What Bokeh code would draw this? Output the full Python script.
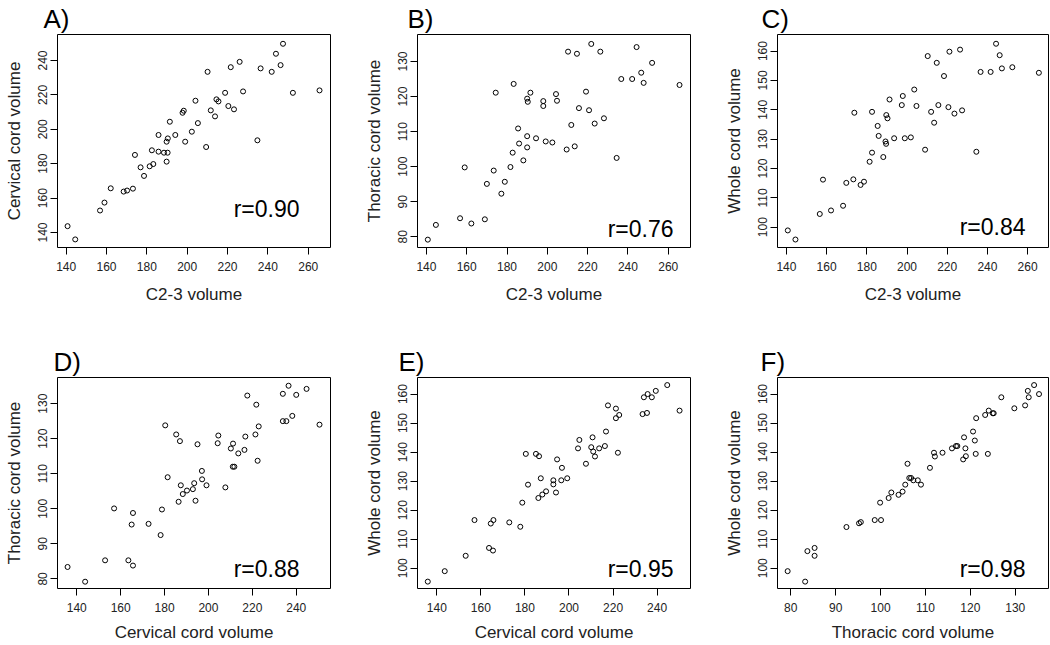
from bokeh.plotting import figure
from bokeh.models import Range1d, FixedTicker, Label
from bokeh.layouts import row, column
from bokeh.embed import file_html
from bokeh.resources import INLINE

FONT = "Liberation Sans"

# ---------------- data ----------------
# Panel A: C2-3 volume vs cervical cord volume
a_x = [140.7, 144.5, 156.8, 159.0, 162.1, 168.5, 170.2, 173.1, 174.1, 176.9, 178.6, 181.4, 183.2, 182.5,
       185.8, 185.8, 188.5, 189.8, 190.3, 189.8, 190.4, 191.4, 194.1, 197.7, 198.3, 199.0, 202.3, 204.1,
       205.3, 209.4, 210.1, 211.7, 213.8, 214.5, 215.5, 218.8, 220.4, 221.6, 223.2, 226.0, 227.7, 234.8,
       236.4, 241.9, 244.0, 246.3, 247.5, 252.4, 265.6]
a_y = [143.7, 136.0, 152.8, 157.4, 165.7, 163.8, 164.4, 165.5, 185.1, 177.9, 172.9, 178.5, 179.8, 187.8,
       196.7, 187.0, 186.4, 181.2, 186.4, 192.8, 194.7, 204.4, 196.7, 209.6, 210.8, 192.8, 198.6, 216.6,
       203.6, 189.7, 233.4, 211.0, 207.5, 217.4, 216.2, 221.2, 213.5, 236.1, 211.6, 239.2, 222.0, 193.6,
       235.4, 233.4, 243.9, 237.3, 249.7, 221.2, 222.6]

# Panel B: C2-3 volume vs thoracic cord volume
b_x = [140.7, 144.7, 156.7, 159.0, 162.3, 169.0, 170.0, 173.4, 174.4, 177.2, 178.9, 181.7, 182.8, 183.3,
       185.5, 186.0, 188.1, 190.0, 190.0, 190.0, 190.3, 191.6, 194.4, 198.0, 198.0, 199.2, 202.5, 204.3,
       204.8, 209.6, 210.3, 211.9, 213.6, 214.7, 215.7, 219.2, 220.7, 221.8, 223.5, 226.3, 228.1, 234.4,
       236.7, 242.1, 244.3, 246.6, 247.8, 252.0, 265.6]
b_y = [79.2, 83.4, 85.3, 99.8, 83.8, 85.0, 95.1, 98.9, 121.1, 92.3, 95.7, 99.9, 104.0, 123.6,
       110.9, 106.6, 101.8, 119.4, 108.7, 105.5, 118.5, 121.1, 108.1, 118.7, 117.3, 107.2, 106.9, 120.7,
       118.8, 104.9, 132.8, 111.9, 105.8, 132.2, 116.7, 121.4, 116.1, 135.0, 112.3, 132.8, 113.8, 102.5,
       125.0, 125.0, 134.1, 126.8, 123.9, 129.6, 123.3]

# Panel C: C2-3 volume vs whole cord volume
c_x = [140.7, 144.5, 156.6, 158.2, 162.2, 168.2, 169.8, 173.3, 173.8, 176.9, 178.6, 181.4, 182.6, 182.6,
       185.4, 185.9, 188.2, 189.3, 189.6, 189.7, 190.3, 191.3, 193.6, 197.4, 197.9, 198.9, 201.9, 203.6,
       204.7, 209.0, 210.3, 212.0, 213.5, 214.8, 215.6, 218.4, 220.6, 221.1, 223.6, 226.4, 227.4, 234.5,
       236.6, 241.6, 244.3, 246.1, 247.2, 252.4, 265.6]
c_y = [98.9, 95.8, 104.5, 116.2, 105.7, 107.3, 115.1, 116.3, 139.0, 114.4, 115.5, 122.3, 125.4, 139.3,
       134.5, 131.1, 123.9, 129.2, 128.4, 138.2, 137.1, 143.5, 130.3, 141.6, 144.7, 130.3, 130.6, 146.9,
       141.3, 126.4, 158.3, 139.3, 135.6, 156.0, 141.6, 151.5, 140.9, 159.8, 138.7, 160.5, 139.8, 125.7,
       152.9, 152.9, 162.5, 158.6, 154.1, 154.5, 152.6]

# Panel D: cervical cord volume vs thoracic cord volume
d_x = [135.8, 143.8, 152.9, 157.0, 163.5, 165.0, 165.6, 165.6, 172.7, 178.2, 178.8, 180.3, 181.4, 185.3,
       186.4, 187.0, 187.4, 188.3, 190.2, 192.9, 193.5, 194.1, 195.0, 197.0, 197.1, 199.1, 204.2, 204.5,
       207.7, 210.2, 211.2, 211.1, 211.8, 213.6, 216.4, 216.8, 217.7, 221.4, 221.8, 222.4, 222.9, 233.9,
       233.9, 235.5, 236.5, 238.2, 240.0, 244.7, 250.6]
d_y = [83.4, 79.2, 85.3, 100.1, 85.3, 95.5, 98.8, 83.8, 95.7, 92.5, 99.8, 123.8, 109.0, 121.2,
       102.0, 119.3, 106.7, 104.2, 105.2, 105.6, 107.3, 102.3, 118.4, 110.8, 108.4, 106.7, 118.7, 120.9,
       106.1, 117.2, 118.6, 112.0, 112.0, 115.8, 116.8, 120.6, 132.3, 121.2, 129.7, 113.7, 123.5, 132.8,
       125.0, 125.0, 135.1, 126.5, 132.5, 134.2, 124.0]

# Panel E: cervical cord volume vs whole cord volume
e_x = [135.9, 143.6, 153.1, 157.1, 163.7, 164.5, 165.5, 165.7, 172.9, 177.9, 178.8, 180.4, 181.4, 185.0,
       186.4, 186.1, 187.2, 187.9, 189.6, 192.9, 192.9, 194.1, 194.6, 196.8, 196.5, 199.2, 204.1, 204.7,
       207.7, 210.7, 210.1, 211.0, 211.8, 213.7, 216.3, 216.8, 217.7, 221.3, 221.3, 222.8, 222.2, 233.4,
       234.0, 235.4, 235.7, 237.6, 239.4, 244.6, 250.2]
e_y = [95.4, 99.0, 104.3, 116.6, 107.0, 115.4, 106.1, 116.6, 115.8, 114.3, 122.6, 139.4, 128.8, 139.4,
       138.6, 124.2, 131.0, 125.4, 126.5, 130.3, 128.9, 126.1, 137.5, 134.6, 130.3, 131.0, 141.3, 144.2,
       136.0, 145.1, 141.7, 140.2, 138.5, 141.3, 142.1, 147.1, 156.1, 155.0, 151.7, 152.8, 139.8, 153.1,
       158.9, 153.5, 160.0, 158.9, 161.1, 163.1, 154.3]

# Panel F: thoracic cord volume vs whole cord volume
f_x = [79.3, 83.2, 83.7, 85.3, 85.3, 92.4, 95.2, 95.6, 98.7, 100.1, 99.9, 101.8, 102.4, 104.0,
       104.9, 105.5, 106.0, 106.4, 106.8, 107.3, 108.3, 109.0, 111.0, 111.9, 112.1, 113.8, 115.9, 116.8,
       117.1, 118.4, 118.6, 118.9, 119.0, 120.6, 121.0, 121.2, 121.3, 123.3, 123.9, 124.1, 125.0, 125.2,
       126.9, 129.8, 132.2, 133.0, 132.8, 134.2, 135.3]
f_y = [99.0, 95.4, 105.9, 107.0, 104.3, 114.2, 115.5, 115.9, 116.6, 116.6, 122.6, 124.2, 126.1, 125.3,
       126.4, 128.8, 136.0, 131.1, 131.1, 130.3, 130.3, 128.8, 134.6, 139.8, 138.5, 139.8, 141.3, 142.1,
       142.1, 137.5, 145.1, 141.3, 138.6, 147.1, 144.0, 139.4, 151.7, 152.8, 139.4, 154.3, 153.4, 153.4,
       158.9, 155.1, 156.1, 158.9, 161.1, 163.1, 160.0]

letters = ["A)", "B)", "C)", "D)", "E)", "F)"]
x_labels = ["C2-3 volume", "C2-3 volume", "C2-3 volume",
            "Cervical cord volume", "Cervical cord volume", "Thoracic cord volume"]
y_labels = ["Cervical cord volume", "Thoracic cord volume", "Whole cord volume",
            "Thoracic cord volume", "Whole cord volume", "Whole cord volume"]
r_texts = ["r=0.90", "r=0.76", "r=0.84", "r=0.88", "r=0.95", "r=0.98"]

ticks_c23 = [140, 160, 180, 200, 220, 240, 260]
ticks_cerv_y = [140, 160, 180, 200, 220, 240]
ticks_cerv_x = [140, 160, 180, 200, 220, 240]
ticks_thor = [80, 90, 100, 110, 120, 130]
ticks_whole = [100, 110, 120, 130, 140, 150, 160]

xs = [a_x, b_x, c_x, d_x, e_x, f_x]
ys = [a_y, b_y, c_y, d_y, e_y, f_y]
x_ticks = [ticks_c23, ticks_c23, ticks_c23, ticks_cerv_x, ticks_cerv_x, ticks_thor]
y_ticks = [ticks_cerv_y, ticks_thor, ticks_whole, ticks_thor, ticks_whole, ticks_whole]

# ---------------- layout / styling ----------------
x_ranges = [(135.71, 271.04), (135.58, 271.05), (135.57, 270.39),
            (131.21, 255.61), (131.23, 255.16), (77.04, 137.41)]
y_ranges = [(131.30, 255.09), (76.96, 137.69), (93.08, 165.65),
            (77.26, 137.45), (93.03, 165.71), (93.03, 165.71)]
# panel letter: px offset from frame left
letter_dx = [-14, -10, -16, -4, -19, -17]
# r label: (px in from frame right, px above frame bottom)
r_pos = [(31, 39), (17, 19), (23, 21), (31, 20), (17, 20), (23, 20)]

MB_LEFT = 57
frame_w = [273, 273, 271]
col_right = [30, 30, 2]
MB_TOP = 33
frame_h = [214, 212]
row_bottom = [96, 57]


def make_panel(i):
    r, c = divmod(i, 3)
    width = MB_LEFT + frame_w[c] + col_right[c]
    height = MB_TOP + frame_h[r] + row_bottom[r]
    p = figure(width=width, height=height,
               x_range=Range1d(*x_ranges[i]), y_range=Range1d(*y_ranges[i]),
               output_backend="svg", toolbar_location=None,
               min_border_left=MB_LEFT, min_border_right=col_right[c],
               min_border_top=MB_TOP, min_border_bottom=row_bottom[r],
               background_fill_color="white", border_fill_color="white")
    p.grid.visible = False
    p.outline_line_color = "black"
    p.outline_line_width = 1
    p.outline_line_alpha = 1.0

    p.title.text = letters[i]
    p.title.align = "left"
    p.title.offset = letter_dx[i]
    p.title.standoff = 2
    p.title.text_font = FONT
    p.title.text_font_size = "26px"
    p.title.text_font_style = "normal"
    p.title.text_color = "black"

    p.scatter(xs[i], ys[i], marker="circle", size=5, fill_color=None,
              line_color="black", line_width=1)

    p.xaxis.ticker = FixedTicker(ticks=x_ticks[i])
    p.yaxis.ticker = FixedTicker(ticks=y_ticks[i])
    p.xaxis.axis_label = x_labels[i]
    p.yaxis.axis_label = y_labels[i]
    p.yaxis.major_label_orientation = "vertical"
    for ax in (p.xaxis[0], p.yaxis[0]):
        ax.axis_line_color = None
        ax.major_tick_out = 7
        ax.major_tick_in = 0
        ax.major_tick_line_color = "black"
        ax.minor_tick_line_color = None
        ax.major_label_text_font = FONT
        ax.major_label_text_font_size = "12px"
        ax.major_label_text_color = "#222222"
        ax.axis_label_text_font = FONT
        ax.axis_label_text_font_size = "17px"
        ax.axis_label_text_font_style = "normal"
        ax.axis_label_text_color = "#222222"
    p.xaxis.major_label_standoff = 7
    p.xaxis.axis_label_standoff = 11 if r == 0 else 8
    p.yaxis.major_label_standoff = 3
    p.yaxis.axis_label_standoff = 12

    rx, ry = r_pos[i]
    p.add_layout(Label(x=frame_w[c] - rx, y=ry, x_units="screen", y_units="screen",
                       text=r_texts[i], text_font=FONT, text_font_size="23px",
                       text_color="black", text_align="right", text_baseline="alphabetic"))
    return p


panels = [make_panel(i) for i in range(6)]
layout = column(row(*panels[:3], spacing=0), row(*panels[3:], spacing=0), spacing=0)

open("out.html", "w").write(file_html(layout, INLINE))
